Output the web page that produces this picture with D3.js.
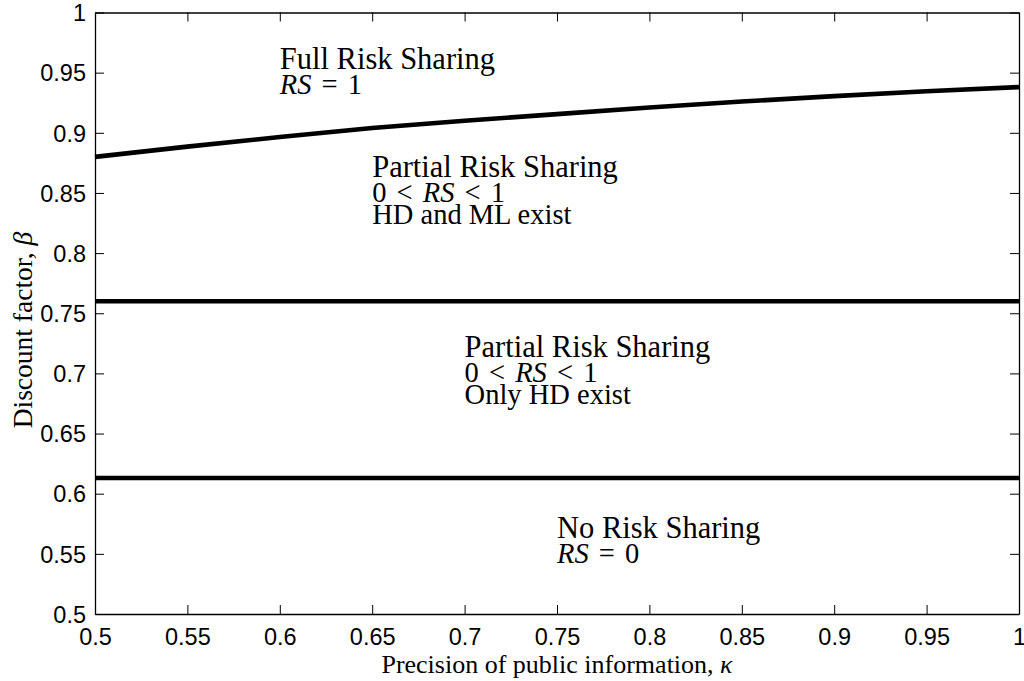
<!DOCTYPE html>
<html>
<head>
<meta charset="utf-8">
<script src="https://cdn.jsdelivr.net/npm/d3@7"></script>
<style>
  body { margin: 0; background: #fff; }
  svg { display: block; }
  .tick text { font-family: "Liberation Sans", Arial, sans-serif; font-size: 23.5px; fill: #000; }
  .serif { font-family: "Liberation Serif", "Times New Roman", serif; fill: #000; }
</style>
</head>
<body>
<div id="chart"></div>
<script>
// precision of public information (kappa) and regime boundaries (beta)
const kappa = [0.5, 0.55, 0.6, 0.65, 0.7, 0.75, 0.8, 0.85, 0.9, 0.95, 1.0];
const fullRSBoundary = [0.880, 0.8885, 0.8965, 0.904, 0.910, 0.9155, 0.921, 0.926, 0.9305, 0.9345, 0.938];
const flatKappa = [0.5, 1.0];
const mlBoundary = [0.76, 0.76];
const noRSBoundary = [0.613, 0.613];

const xTicks = [0.5, 0.55, 0.6, 0.65, 0.7, 0.75, 0.8, 0.85, 0.9, 0.95, 1];
const xTickLabels = ["0.5", "0.55", "0.6", "0.65", "0.7", "0.75", "0.8", "0.85", "0.9", "0.95", "1"];
const yTicks = [0.5, 0.55, 0.6, 0.65, 0.7, 0.75, 0.8, 0.85, 0.9, 0.95, 1];
const yTickLabels = ["0.5", "0.55", "0.6", "0.65", "0.7", "0.75", "0.8", "0.85", "0.9", "0.95", "1"];

// region annotations: anchor (kappa, beta) of the first line
const regionKappa = [0.6, 0.65, 0.7, 0.75];
const regionBeta = [0.9528, 0.8635, 0.7139, 0.563];
const regionTitles = ["Full Risk Sharing", "Partial Risk Sharing", "Partial Risk Sharing", "No Risk Sharing"];
const regionLines = [
  [[["RS", true], [" = 1", false]]],
  [[["0 < ", false], ["RS", true], [" < 1", false]], [["HD and ML exist", false]]],
  [[["0 < ", false], ["RS", true], [" < 1", false]], [["Only HD exist", false]]],
  [[["RS", true], [" = 0", false]]]
];

const W = 1024, H = 681;
const margin = { top: 12.5, right: 5, bottom: 67, left: 95 };
const width = W - margin.left - margin.right;
const height = H - margin.top - margin.bottom;

const svg = d3.select("#chart").append("svg")
  .attr("width", W)
  .attr("height", H);

const g = svg.append("g")
  .attr("transform", `translate(${margin.left},${margin.top})`);

const x = d3.scaleLinear().domain([0.5, 1]).range([0, width]);
const y = d3.scaleLinear().domain([0.5, 1]).range([height, 0]);

// axes with inward ticks (MATLAB style box)
const tickLen = 9;
const xAxis = g.append("g")
  .attr("transform", `translate(0,${height})`)
  .call(d3.axisBottom(x).tickValues(xTicks).tickFormat((d, i) => xTickLabels[i]).tickSizeInner(-tickLen).tickSizeOuter(0).tickPadding(14));

const yAxis = g.append("g")
  .call(d3.axisLeft(y).tickValues(yTicks).tickFormat((d, i) => yTickLabels[i]).tickSizeInner(-tickLen).tickSizeOuter(0).tickPadding(9));

g.append("g")
  .call(d3.axisTop(x).tickValues(xTicks).tickFormat("").tickSizeInner(-tickLen).tickSizeOuter(0));

g.append("g")
  .attr("transform", `translate(${width},0)`)
  .call(d3.axisRight(y).tickValues(yTicks).tickFormat("").tickSizeInner(-tickLen).tickSizeOuter(0));

g.selectAll(".domain").attr("stroke", "#000").attr("stroke-width", 1.3);
g.selectAll(".tick line").attr("stroke", "#000").attr("stroke-width", 1);
xAxis.selectAll(".tick text").attr("dy", "0.71em");
yAxis.selectAll(".tick text").attr("dy", "0.35em");

// boundary lines
const line = d3.line().x(d => x(d[0])).y(d => y(d[1]));
const series = [
  d3.zip(kappa, fullRSBoundary),
  d3.zip(flatKappa, mlBoundary),
  d3.zip(flatKappa, noRSBoundary)
];
g.selectAll(".boundary")
  .data(series)
  .enter()
  .append("path")
  .attr("class", "boundary")
  .attr("d", line)
  .attr("fill", "none")
  .attr("stroke", "#000")
  .attr("stroke-width", 4.6);

// region labels
regionTitles.forEach((title, i) => {
  const t = g.append("text")
    .attr("class", "serif")
    .attr("x", x(regionKappa[i]))
    .attr("y", y(regionBeta[i]));
  t.append("tspan")
    .attr("x", x(regionKappa[i]))
    .style("font-size", "30.5px")
    .text(title);
  regionLines[i].forEach((parts, j) => {
    parts.forEach((p, k) => {
      const s = t.append("tspan")
        .style("font-size", "28.5px")
        .style("word-spacing", parts.length > 1 ? "3px" : "0px")
        .style("font-style", p[1] ? "italic" : "normal")
        .text(p[0]);
      if (k === 0) s.attr("x", x(regionKappa[i])).attr("dy", j === 0 ? 25 : 22.5);
    });
  });
});

// axis labels
const xl = svg.append("text")
  .attr("class", "serif")
  .attr("x", margin.left + width / 2)
  .attr("y", 673)
  .attr("text-anchor", "middle")
  .style("font-size", "26px");
xl.append("tspan").text("Precision of public information, ");
xl.append("tspan").style("font-style", "italic").text("κ");

const yl = svg.append("text")
  .attr("class", "serif")
  .attr("transform", "translate(32,330) rotate(-90)")
  .attr("text-anchor", "middle")
  .style("font-size", "27.5px");
yl.append("tspan").text("Discount factor, ");
yl.append("tspan").style("font-style", "italic").text("β");
</script>
</body>
</html>
